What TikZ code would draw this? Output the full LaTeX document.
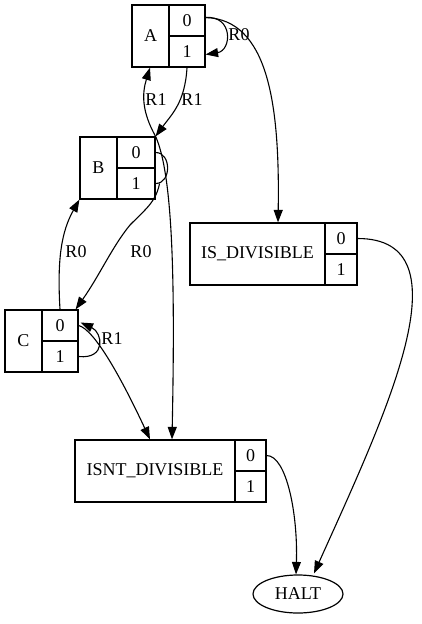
\documentclass[tikz,border=0pt]{standalone}
\usepackage{fontspec}
\setmainfont{Liberation Serif}
\usetikzlibrary{arrows.meta,shapes.geometric}

\tikzset{
    cell/.style={draw, line width=1.2pt, inner sep=0pt, font=\fontsize{18}{20}\selectfont},
    port/.style={cell, minimum height=31pt},
    wire/.style={line width=1.1pt},
    edge/.style={wire, -{Triangle[length=12.5pt,width=9pt]}},
    lab/.style={inner sep=0pt, font=\fontsize{18}{20}\selectfont}
}

\begin{document}
\begin{tikzpicture}[x=1pt,y=-1pt]

    \useasboundingbox (0,0) rectangle (422,624);

    % State A
    \node[cell, minimum width=37pt, minimum height=62pt] (A) at (150.5,36) {A};
    \node[port, minimum width=36pt] (A0) at (187,20.5) {0};
    \node[port, minimum width=36pt] (A1) at (187,51.5) {1};

    % State B
    \node[cell, minimum width=37pt, minimum height=62pt] (B) at (98.5,168) {B};
    \node[port, minimum width=38pt] (B0) at (136,152.5) {0};
    \node[port, minimum width=38pt] (B1) at (136,183.5) {1};

    % State C
    \node[cell, minimum width=37pt, minimum height=62pt] (C) at (23.5,341) {C};
    \node[port, minimum width=36pt] (C0) at (60,325.5) {0};
    \node[port, minimum width=36pt] (C1) at (60,356.5) {1};

    % IS_DIVISIBLE
    \node[cell, minimum width=135pt, minimum height=62pt] (IS) at (257.5,254) {IS\_DIVISIBLE};
    \node[port, minimum width=32pt] (IS0) at (341,238.5) {0};
    \node[port, minimum width=32pt] (IS1) at (341,269.5) {1};

    % ISNT_DIVISIBLE
    \node[cell, minimum width=160pt, minimum height=62pt] (ISNT) at (155,471) {ISNT\_DIVISIBLE};
    \node[port, minimum width=31pt] (ISNT0) at (250.5,455.5) {0};
    \node[port, minimum width=31pt] (ISNT1) at (250.5,486.5) {1};

    % HALT
    \node[cell, ellipse, minimum width=90pt, minimum height=38pt] (HALT) at (298,594) {HALT};

    % Transitions out of A
    \draw[edge] ([yshift=3pt]A0.east) .. controls +(28,-2) and +(26,-4) .. ([yshift=-3pt]A1.east);
    \node[lab] (rA0) at (239,35) {R0};
    \draw[edge] ([yshift=3pt]A0.east) .. controls +(62,2) and +(2,-120) .. ([xshift=20.5pt]IS.north);
    \draw[edge] (A1.south) .. controls +(-2,35) and +(16,-22) .. (B0.north east);
    \node[lab] (rA1) at (192,100) {R1};

    % Transitions out of B
    \draw[edge] (B0.north east) .. controls +(-14,-25) and +(-8,26) .. ([xshift=-0.5pt]A.south);
    \node[lab] (rB1) at (156,100) {R1};
    \draw[wire] (B0.east) .. controls +(16,0) and +(16,0) .. (B1.east);
    \draw[edge] ([xshift=4pt]B1.east) .. controls +(-4,18) and +(18,-18) .. (130,225)
        .. controls +(-18,22) and +(24,-34) .. ([xshift=-3pt]C0.north east);
    \node[lab] (rB0) at (141,252) {R0};
    \draw[edge] (B0.north east) .. controls +(18,40) and +(3,-150) .. ([xshift=17pt]ISNT.north);

    % Transitions out of C
    \draw[edge] (C0.north) .. controls +(-3,-50) and +(-18,32) .. (B.south west);
    \node[lab] (rC0) at (76,252) {R0};
    \draw[edge] (C1.east) .. controls +(28,3) and +(22,10) .. ([xshift=2pt,yshift=3pt]C0.east);
    \node[lab] (rC1) at (112,339) {R1};
    \draw[edge] (C0.east) .. controls +(16,4) and +(-28,-60) .. ([xshift=-5pt]ISNT.north);

    % Transitions into HALT
    \draw[edge] (ISNT0.east) .. controls +(20,0) and +(2,-60) .. ([xshift=-2pt]HALT.north);
    \draw[edge] (IS0.east) .. controls +(112,0) and +(72,-160) .. ([xshift=16pt,yshift=1pt]HALT.north);

\end{tikzpicture}
\end{document}
